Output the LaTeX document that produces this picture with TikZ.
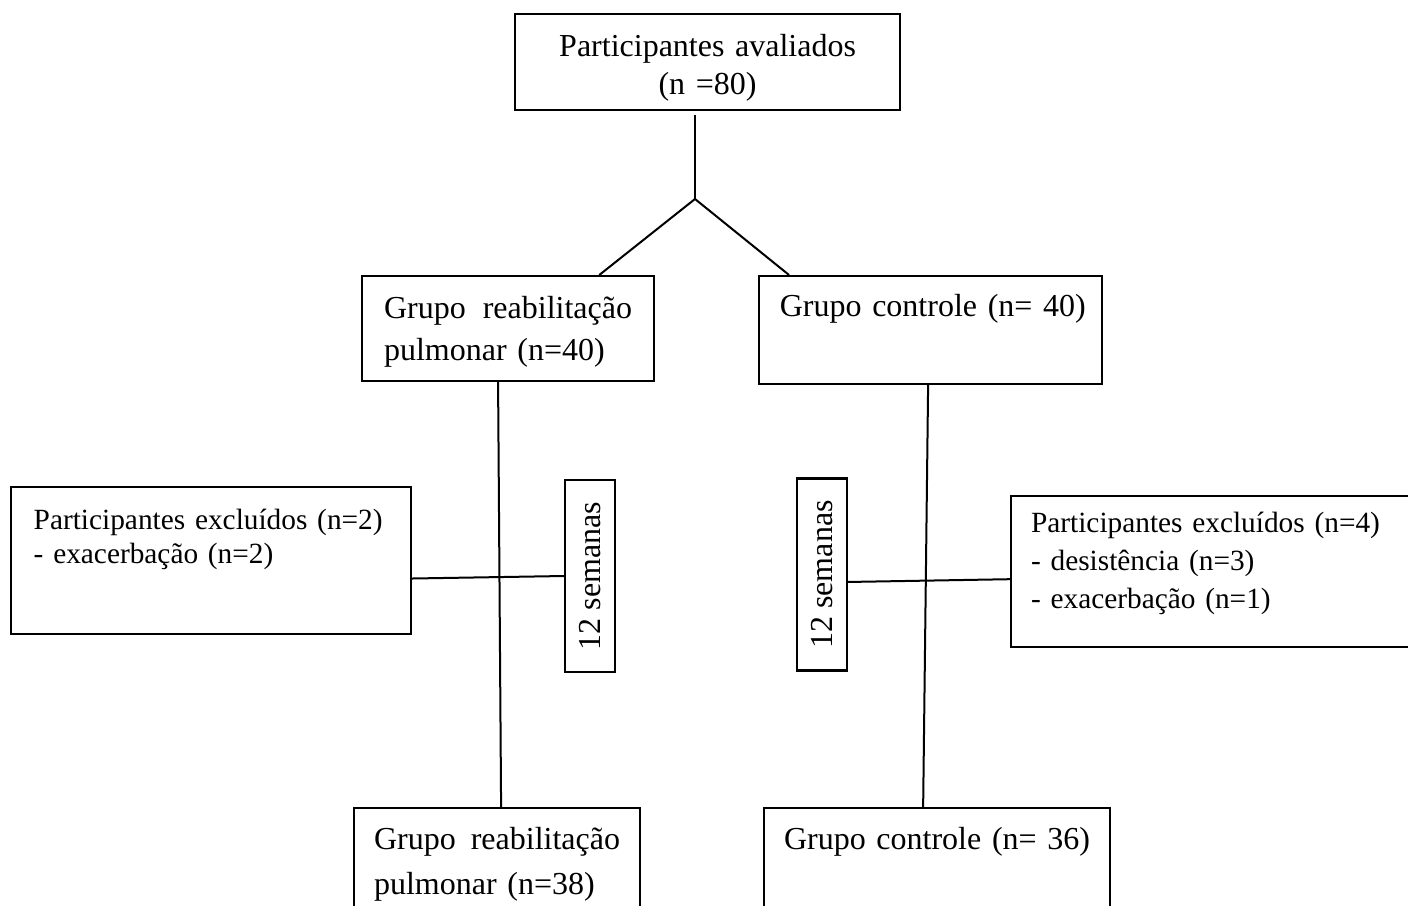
\documentclass[tikz,border=0pt]{standalone}
\usepackage{fontspec}
\setmainfont{Liberation Serif}
\usetikzlibrary{calc}

\tikzset{
  flowbox/.style={draw, line width=0.8pt, rectangle, anchor=north west,
    inner ysep=0pt, align=left, font=\fontsize{12}{15.75}\selectfont},
  weekbox/.style={draw, line width=0.8pt, rectangle, rotate=90, inner sep=0pt,
    minimum width=72pt, minimum height=18.75pt, font=\fontsize{12}{14}\selectfont},
  link/.style={line width=0.75pt}
}

\begin{document}
\begin{tikzpicture}[x=0.375pt, y=-0.375pt]
  \useasboundingbox (0,0) rectangle (1408,905);

  % boxes
  \node[flowbox, align=center, inner xsep=0pt, text width=144.4pt,
    text height=15.75pt, text depth=20.25pt, font=\fontsize{12}{14.4}\selectfont]
    (top) at (514,13) {Participantes avaliados\\(n =80)};

  \node[flowbox, inner xsep=8.25pt, text width=93pt, text height=15.75pt, text depth=23.6pt]
    (grr) at (361,275) {Grupo\hfill reabilitação\\pulmonar (n=40)};
  \node[flowbox, inner xsep=7.8pt, text width=113pt, text height=15pt, text depth=25.5pt]
    (grc) at (758,275) {\mbox{Grupo controle (n= 40)}};

  \node[flowbox, inner xsep=8.5pt, text width=133pt, text height=15.75pt, text depth=39.4pt,
    font=\fontsize{11}{12.75}\selectfont]
    (exl) at (10,486) {Participantes excluídos (n=2)\\- exacerbação (n=2)};
  \node[flowbox, inner xsep=7.5pt, text width=146pt, text height=13.5pt, text depth=43.1pt,
    font=\fontsize{11}{14.25}\selectfont]
    (exr) at (1010,495) {Participantes excluídos (n=4)\\- desistência (n=3)\\- exacerbação (n=1)};

  \node[weekbox] (sml) at (590,576) {12 semanas};
  \node[weekbox] (smr) at (822,574.5) {12 semanas};

  \node[flowbox, inner xsep=7.5pt, text width=92.25pt, text height=15.4pt, text depth=37.5pt,
    font=\fontsize{12}{16.9}\selectfont]
    (bgr) at (353,807) {Grupo\hfill reabilitação\\pulmonar (n=38)};
  \node[flowbox, inner xsep=7.5pt, text width=114.75pt, text height=15.4pt, text depth=37.5pt]
    (bgc) at (763,807) {\mbox{Grupo controle (n= 36)}};

  % connectors
  \coordinate (split) at (695,199);
  \draw[link, shorten <=1.5pt] (top.south -| split) -- (split);
  \draw[link] (split) -- ($(grr.north west)!0.81!(grr.north east)$);
  \draw[link] (split) -- ($(grc.north west)!0.09!(grc.north east)$);

  \draw[link] ($(grr.south west)!0.466!(grr.south east)$) -- ($(bgr.north west)!0.514!(bgr.north east)$);
  \draw[link] ($(grc.south west)!0.493!(grc.south east)$) -- ($(bgc.north west)!0.46!(bgc.north east)$);

  \draw[link] ($(exl.north east)!0.62!(exl.south east)$) -- (sml.north);
  \draw[link] ([yshift=-2.8pt]smr.south) -- ($(exr.north west)!0.55!(exr.south west)$);
\end{tikzpicture}
\end{document}
